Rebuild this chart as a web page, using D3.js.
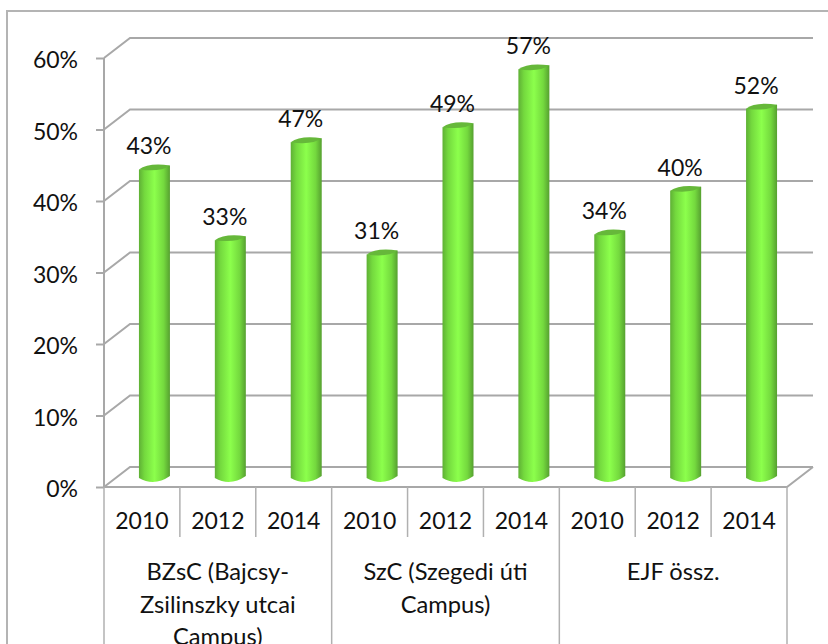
<!DOCTYPE html>
<html>
<head>
<meta charset="utf-8">
<script src="https://cdnjs.cloudflare.com/ajax/libs/d3/7.8.5/d3.min.js"></script>
<style>
  html, body { margin: 0; padding: 0; background: #fff; overflow: hidden; }
  text { font-family: Lato, "Open Sans", sans-serif; fill: #111; }
</style>
</head>
<body>
<div id="chart"></div>
<script>
// values
var years = ["2010", "2012", "2014", "2010", "2012", "2014", "2010", "2012", "2014"];
var groups = [
  ["BZsC (Bajcsy-", "Zsilinszky utcai", "Campus)"],
  ["SzC (Szegedi úti", "Campus)"],
  ["EJF össz."]
];
var values = [0.433, 0.334, 0.471, 0.314, 0.492, 0.573, 0.342, 0.403, 0.518];
var yTicks = [0, 0.1, 0.2, 0.3, 0.4, 0.5, 0.6];

var width = 828, height = 644;
var depthX = 26, depthY = 20;
var gridColor = "#a8a8a8";

var x = d3.scaleBand().domain(d3.range(values.length)).range([104, 787]);
var y = d3.scaleLinear().domain([0, 0.6]).range([487, 58]);

var svg = d3.select("#chart").append("svg")
  .attr("width", width)
  .attr("height", height)
  .style("display", "block");

// cylinder shading
var grad = svg.append("defs").append("linearGradient").attr("id", "cyl");
grad.append("stop").attr("offset", "0%").attr("stop-color", "#5fb035");
grad.append("stop").attr("offset", "18%").attr("stop-color", "#74d93e");
grad.append("stop").attr("offset", "50%").attr("stop-color", "#8cff4c");
grad.append("stop").attr("offset", "80%").attr("stop-color", "#74d93e");
grad.append("stop").attr("offset", "100%").attr("stop-color", "#56a030");

// chart border
svg.append("path")
  .attr("d", "M7,644V11H828")
  .attr("fill", "none")
  .attr("stroke", "#b4b4b4")
  .attr("stroke-width", 2);

// back wall lines and the diagonal to the front
var grid = svg.append("g").attr("fill", "none").attr("stroke", gridColor).attr("stroke-width", 2);
yTicks.forEach(function (t) {
  grid.append("path").attr("d",
    "M" + x.range()[0] + "," + y(t) +
    "L" + (x.range()[0] + depthX) + "," + (y(t) - depthY) +
    "H" + (x.range()[1] + depthX));
});
// floor front edge
grid.append("path").attr("d",
  "M" + x.range()[0] + "," + y(0) + "H" + x.range()[1] +
  "L" + (x.range()[1] + depthX) + "," + (y(0) - depthY));

// y axis
var yAxis = svg.append("g")
  .attr("transform", "translate(" + x.range()[0] + ",0)")
  .call(d3.axisLeft(y).tickValues(yTicks).tickFormat(d3.format(".0%")).tickSize(8).tickPadding(18));
yAxis.selectAll("line, path").attr("stroke", gridColor).attr("stroke-width", 2);
yAxis.selectAll("text").attr("font-size", 23).attr("dy", "0.42em").style("font-family", "Lato");
yAxis.select(".domain").attr("d", "M0," + y(0.6) + "V" + y(0));

// bars, drawn as cylinders halfway into the depth
var barW = 31, ry = 4, tilt = 2;
function barPath(v, i) {
  var cx = x(i) + x.bandwidth() / 2 + depthX / 2 - 0.5;
  var l = cx - barW / 2, r = cx + barW / 2;
  var top = y(v) - depthY / 2, bot = y(0) - depthY / 2 - 1;
  return "M" + l + "," + (top + tilt) +
    "L" + l + "," + (bot + tilt) +
    "Q" + cx + "," + (bot + tilt + ry * 2.2) + " " + r + "," + (bot - tilt + 2) +
    "L" + r + "," + (top - tilt);
}
function capPath(v, i) {
  var cx = x(i) + x.bandwidth() / 2 + depthX / 2 - 0.5;
  var l = cx - barW / 2, r = cx + barW / 2;
  var top = y(v) - depthY / 2;
  return "M" + l + "," + (top + tilt) +
    "Q" + (cx - 6) + "," + (top - ry - 1) + " " + r + "," + (top - tilt) +
    "Q" + (cx + 6) + "," + (top + ry + 1) + " " + l + "," + (top + tilt) + "Z";
}
svg.append("g").selectAll("path").data(values).enter().append("path")
  .attr("d", barPath)
  .attr("fill", "url(#cyl)");
svg.append("g").selectAll("path").data(values).enter().append("path")
  .attr("d", capPath)
  .attr("fill", "#66b83a");

// data labels
svg.append("g").selectAll("text").data(values).enter().append("text")
  .attr("x", function (d, i) { return x(i) + x.bandwidth() / 2 + 7; })
  .attr("y", function (d) { return y(d) - depthY / 2 - 13; })
  .attr("text-anchor", "middle")
  .attr("font-size", 23)
  .text(d3.format(".0%"));

// year row
svg.append("g").selectAll("text").data(years).enter().append("text")
  .attr("x", function (d, i) { return x(i) + x.bandwidth() / 2; })
  .attr("y", 529)
  .attr("text-anchor", "middle")
  .attr("font-size", 23)
  .text(function (d) { return d; });

// separators under the axis
var seps = svg.append("g").attr("stroke", "#b0b0b0").attr("stroke-width", 1.5);
d3.range(values.length + 1).forEach(function (i) {
  var xp = i < values.length ? x(i) : x.range()[1];
  seps.append("line")
    .attr("x1", xp).attr("x2", xp)
    .attr("y1", y(0))
    .attr("y2", i % 3 === 0 ? height : 537);
});

// group labels
groups.forEach(function (lines, g) {
  var cx = x(g * 3) + x.bandwidth() * 1.5;
  var t = svg.append("text").attr("text-anchor", "middle").attr("font-size", 23.7);
  lines.forEach(function (line, k) {
    t.append("tspan").attr("x", cx).attr("y", 580 + k * 32.5).text(line);
  });
});
</script>
</body>
</html>
